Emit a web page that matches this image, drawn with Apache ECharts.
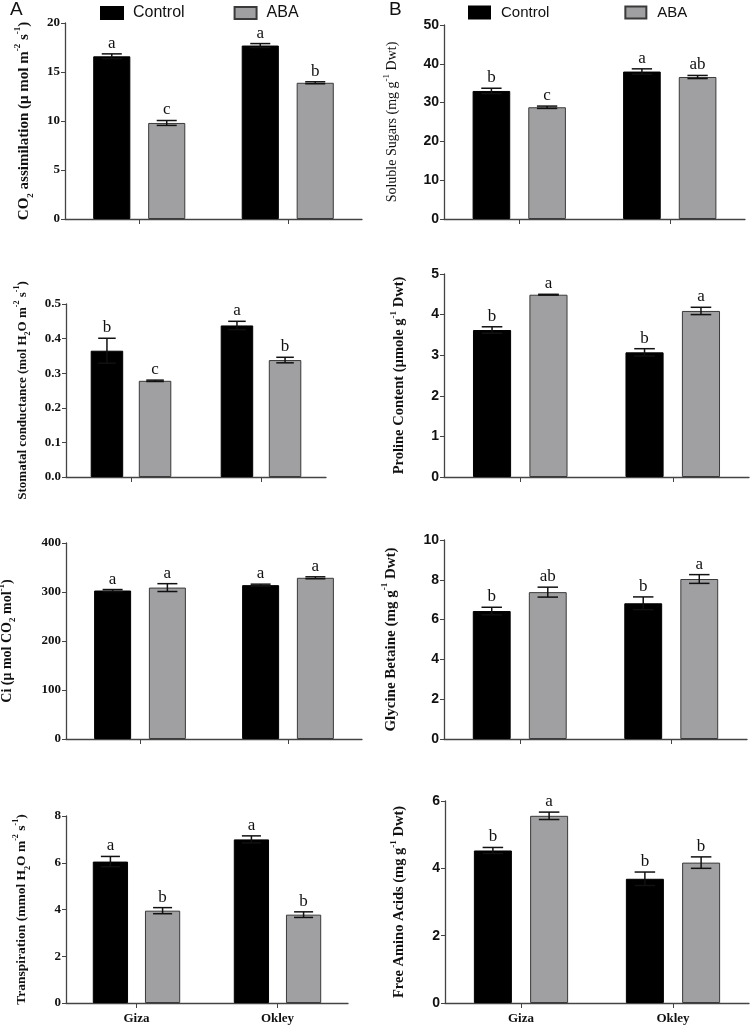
<!DOCTYPE html>
<html><head><meta charset="utf-8">
<script src="https://cdn.jsdelivr.net/npm/echarts@6/dist/echarts.min.js"></script>
<style>html,body{margin:0;padding:0;background:#fff}#c{width:755px;height:1028px}</style>
</head><body><div id="c"></div>
<script>
// ---------- DATA ----------
const categories = ['Giza', 'Okley'];
const treatments = ['Control', 'ABA'];

// A: CO2 assimilation
const co2Control = [16.6, 17.7];
const co2ControlErr = [0.25, 0.2];
const co2ABA = [9.8, 13.9];
const co2ABAErr = [0.25, 0.1];
const co2LettersControl = ['a', 'a'];
const co2LettersABA = ['c', 'b'];
const co2Ticks = [0, 20, 5];

// A: Stomatal conductance
const gsControl = [0.365, 0.438];
const gsControlErr = [0.036, 0.012];
const gsABA = [0.278, 0.338];
const gsABAErr = [0.002, 0.008];
const gsLettersControl = ['b', 'a'];
const gsLettersABA = ['c', 'b'];
const gsTicks = [0, 0.5, 0.1];

// A: Ci
const ciControl = [303, 314];
const ciControlErr = [2, 2];
const ciABA = [309, 329];
const ciABAErr = [8, 2];
const ciLettersControl = ['a', 'a'];
const ciLettersABA = ['a', 'a'];
const ciTicks = [0, 400, 100];

// A: Transpiration
const trControl = [6.05, 7.0];
const trControlErr = [0.22, 0.15];
const trABA = [3.95, 3.78];
const trABAErr = [0.13, 0.12];
const trLettersControl = ['a', 'a'];
const trLettersABA = ['b', 'b'];
const trTicks = [0, 8, 2];

// B: Soluble sugars
const ssControl = [33.0, 38.0];
const ssControlErr = [0.7, 0.7];
const ssABA = [28.8, 36.6];
const ssABAErr = [0.3, 0.4];
const ssLettersControl = ['b', 'a'];
const ssLettersABA = ['c', 'ab'];
const ssTicks = [0, 50, 10];

// B: Proline
const prControl = [3.62, 3.07];
const prControlErr = [0.08, 0.09];
const prABA = [4.49, 4.09];
const prABAErr = [0.01, 0.09];
const prLettersControl = ['b', 'b'];
const prLettersABA = ['a', 'a'];
const prTicks = [0, 5, 1];

// B: Glycine betaine
const gbControl = [6.43, 6.82];
const gbControlErr = [0.19, 0.32];
const gbABA = [7.38, 8.04];
const gbABAErr = [0.25, 0.22];
const gbLettersControl = ['b', 'b'];
const gbLettersABA = ['ab', 'a'];
const gbTicks = [0, 10, 2];

// B: Free amino acids
const faControl = [4.53, 3.69];
const faControlErr = [0.09, 0.2];
const faABA = [5.56, 4.17];
const faABAErr = [0.11, 0.17];
const faLettersControl = ['b', 'b'];
const faLettersABA = ['a', 'b'];
const faTicks = [0, 6, 2];

// ---------- LAYOUT / STYLE ----------
const BAR_FRAC = 0.25, GAP_FRAC = 0.48;
const SERIF = 'Liberation Serif', SANS = 'Liberation Sans';

const panels = [
  {side:'A', grid:{left:65, top:23, width:297, height:196}, ticks:co2Ticks, dec:0, nameGap:30, fs:15,
   name:'{b|CO}{sub|2}{b| assimilation (μ mol m}{sup|-2}{b| s}{sup|-1}{b|)}',
   c:co2Control, ce:co2ControlErr, a:co2ABA, ae:co2ABAErr, lc:co2LettersControl, la:co2LettersABA, showCat:false},
  {side:'A', grid:{left:66, top:304, width:260, height:173}, ticks:gsTicks, dec:1, nameGap:34, fs:13,
   name:'{b|Stomatal conductance (mol H}{sub|2}{b|O m}{sup|-2}{b| s}{sup|-1}{b|)}',
   c:gsControl, ce:gsControlErr, a:gsABA, ae:gsABAErr, lc:gsLettersControl, la:gsLettersABA, showCat:false},
  {side:'A', grid:{left:66, top:543, width:296, height:196}, ticks:ciTicks, dec:0, nameGap:49, fs:14,
   name:'{b|Ci (μ mol CO}{sub|2}{b| mol}{sup|-1}{b|)}',
   c:ciControl, ce:ciControlErr, a:ciABA, ae:ciABAErr, lc:ciLettersControl, la:ciLettersABA, showCat:false},
  {side:'A', grid:{left:66, top:816, width:282, height:187}, ticks:trTicks, dec:0, nameGap:34, fs:13.5,
   name:'{b|Transpiration (mmol H}{sub|2}{b|O m}{sup|-2}{b| s}{sup|-1}{b|)}',
   c:trControl, ce:trControlErr, a:trABA, ae:trABAErr, lc:trLettersControl, la:trLettersABA, showCat:true},
  {side:'B', grid:{left:444, top:25, width:301, height:194}, ticks:ssTicks, dec:0, nameGap:42, fs:14, weight:'normal',
   name:'{b|Soluble Sugars (mg g}{sup|-1}{b| Dwt)}',
   c:ssControl, ce:ssControlErr, a:ssABA, ae:ssABAErr, lc:ssLettersControl, la:ssLettersABA, showCat:false},
  {side:'B', grid:{left:444, top:274, width:305, height:203}, ticks:prTicks, dec:0, nameGap:34, fs:14.5,
   name:'{b|Proline Content (µmole g}{sup|-1}{b| Dwt)}',
   c:prControl, ce:prControlErr, a:prABA, ae:prABAErr, lc:prLettersControl, la:prLettersABA, showCat:false},
  {side:'B', grid:{left:444, top:540, width:303, height:199}, ticks:gbTicks, dec:0, nameGap:42, fs:15,
   name:'{b|Glycine Betaine (mg g}{sup|-1}{b| Dwt)}',
   c:gbControl, ce:gbControlErr, a:gbABA, ae:gbABAErr, lc:gbLettersControl, la:gbLettersABA, showCat:false},
  {side:'B', grid:{left:445, top:801, width:304, height:202}, ticks:faTicks, dec:0, nameGap:35, fs:14.5,
   name:'{b|Free Amino Acids (mg g}{sup|-1}{b| Dwt)}',
   c:faControl, ce:faControlErr, a:faABA, ae:faABAErr, lc:faLettersControl, la:faLettersABA, showCat:true}
];

function richFor(weight, size) {
  const lh = Math.round(size * 1.45);
  const small = Math.round(size * 0.62);
  return {
    b:   {fontFamily:SERIF, fontWeight:weight, fontSize:size, lineHeight:lh, color:'#111'},
    sup: {fontFamily:SERIF, fontWeight:weight, fontSize:small, lineHeight:small + 1, verticalAlign:'top', color:'#111'},
    sub: {fontFamily:SERIF, fontWeight:weight, fontSize:small, lineHeight:small + 1, verticalAlign:'bottom', color:'#111'}
  };
}

const AXIS_COLOR = '#444';
const grids = [], xAxes = [], yAxes = [], series = [];

panels.forEach((p, i) => {
  grids.push(Object.assign({containLabel:false, outerBoundsMode:'none'}, p.grid));
  xAxes.push({
    type:'category', gridIndex:i, data:categories,
    axisLine:{lineStyle:{color:AXIS_COLOR, width:1.3}},
    axisTick:{show:true, alignWithLabel:true, length:5, lineStyle:{color:AXIS_COLOR, width:1}},
    axisLabel:{show:p.showCat, margin:9, fontFamily:SERIF, fontWeight:'bold', fontSize:13, color:'#111'}
  });
  const isA = p.side === 'A';
  yAxes.push({
    type:'value', gridIndex:i, min:p.ticks[0], max:p.ticks[1], interval:p.ticks[2],
    splitLine:{show:false},
    axisLine:{show:true, lineStyle:{color:AXIS_COLOR, width:1.3}},
    axisTick:{show:true, length:4, lineStyle:{color:AXIS_COLOR, width:1}},
    axisLabel:{margin:5, color:'#111',
      fontFamily: isA ? SERIF : SANS, fontWeight:'bold', fontSize: isA ? 13 : 14,
      formatter: v => v.toFixed(p.dec)},
    name:p.name, nameLocation:'middle', nameRotate:90, nameGap:p.nameGap, nameMoveOverlap:false,
    nameTextStyle:{rich: richFor(p.weight || 'bold', p.fs)}
  });
  series.push({
    name:treatments[0], type:'bar', xAxisIndex:i, yAxisIndex:i, data:p.c,
    barWidth:(BAR_FRAC*100)+'%', barGap:(GAP_FRAC*100)+'%',
    itemStyle:{color:'#000', borderColor:'#000', borderWidth:1}, silent:true
  });
  series.push({
    name:treatments[1], type:'bar', xAxisIndex:i, yAxisIndex:i, data:p.a,
    barWidth:(BAR_FRAC*100)+'%', barGap:(GAP_FRAC*100)+'%',
    itemStyle:{color:'#a0a0a2', borderColor:'#3a3a3a', borderWidth:1}, silent:true
  });
  const errData = [], letters = [];
  categories.forEach((c, k) => {
    errData.push([k, p.c[k], p.ce[k], 0]); letters.push(p.lc[k]);
    errData.push([k, p.a[k], p.ae[k], 1]); letters.push(p.la[k]);
  });
  series.push({
    type:'custom', xAxisIndex:i, yAxisIndex:i, data:errData, z:10, silent:true,
    renderItem:(params, api) => {
      const ci = api.value(0), v = api.value(1), e = api.value(2), s = api.value(3);
      const band = api.size([1, 0])[0];
      const bw = band * BAR_FRAC;
      const off = (bw + bw * GAP_FRAC) / 2 * (s === 0 ? -1 : 1);
      const t = api.coord([ci, v + e]);
      const b = api.coord([ci, v - e]);
      const x = t[0] + off;
      const cap = bw * 0.27;
      const ls = {stroke:'#111', lineWidth:1.5};
      return {type:'group', children:[
        {type:'line', shape:{x1:x, y1:t[1], x2:x, y2:b[1]}, style:ls},
        {type:'line', shape:{x1:x-cap, y1:t[1], x2:x+cap, y2:t[1]}, style:ls},
        {type:'line', shape:{x1:x-cap, y1:b[1], x2:x+cap, y2:b[1]}, style:ls},
        {type:'text', style:{text:letters[params.dataIndex], x:x, y:t[1]-2, align:'center', verticalAlign:'bottom',
          fontFamily:SERIF, fontSize:17, fill:'#111'}}
      ]};
    }
  });
});

const chart = echarts.init(document.getElementById('c'), null, {renderer:'canvas'});
chart.setOption({
  animation:false,
  backgroundColor:'#fff',
  grid:grids, xAxis:xAxes, yAxis:yAxes, series:series,
  legend:[
    {left:95, top:0, icon:'rect', itemWidth:22, itemHeight:12, itemGap:49, data:treatments, selectedMode:false,
     textStyle:{fontFamily:SANS, fontSize:16, color:'#111', padding:[0,0,0,5]}},
    {left:463, top:0, icon:'rect', itemWidth:21, itemHeight:12, itemGap:75, data:treatments, selectedMode:false,
     textStyle:{fontFamily:SANS, fontSize:15, color:'#111', padding:[0,0,0,6]}}
  ],
  graphic:[
    {type:'text', left:10, top:0, style:{text:'A', fontFamily:SANS, fontSize:19, fill:'#111'}},
    {type:'text', left:389, top:0, style:{text:'B', fontFamily:SANS, fontSize:19, fill:'#111'}}
  ]
});
</script></body></html>
